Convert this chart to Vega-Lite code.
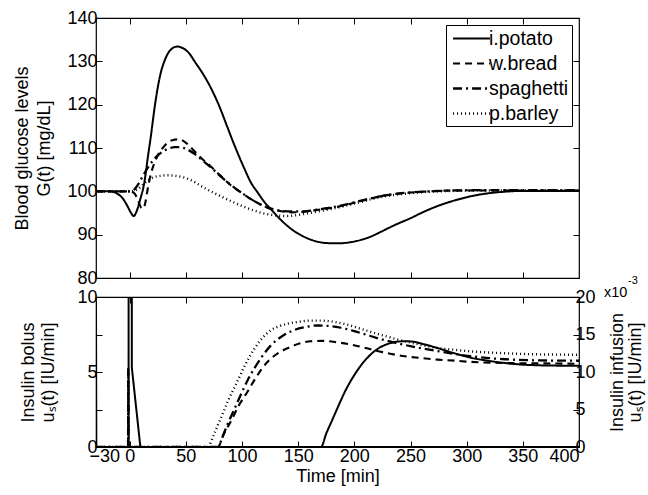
{
  "$schema": "https://vega.github.io/schema/vega-lite/v6.json",
  "background": "white",
  "padding": {"left": 13, "top": 8, "right": 2, "bottom": 2},
  "spacing": 19,
  "bounds": "flush",
  "config": {
    "font": "Liberation Sans",
    "view": {"stroke": "black", "strokeWidth": 1.2},
    "axis": {"domain": false, "grid": false, "tickSize": -6, "tickColor": "black", "tickWidth": 1, "labelFontSize": 18, "labelColor": "black", "titleFontSize": 18, "titleColor": "black", "titleFontWeight": "normal", "labelPadding": 5, "titleLineHeight": 22, "labelOverlap": false},
    "legend": {"fillColor": "white", "strokeColor": "black", "padding": 3, "symbolType": "M-2,0H2", "symbolSize": 340, "symbolOffset": 12, "symbolStrokeColor": "black", "symbolStrokeWidth": 2, "labelFontSize": 19.5, "labelColor": "black", "rowPadding": 5, "labelOffset": 7}
  },
  "resolve": {"scale": {"strokeDash": "independent", "strokeWidth": "independent"}, "legend": {"strokeDash": "independent"}},
  "datasets": {
    "glucose": [
      {"food":"i.potato","t":-30,"g":100},{"food":"i.potato","t":-18,"g":100},{"food":"i.potato","t":-12,"g":99.6},{"food":"i.potato","t":-6,"g":98.3},{"food":"i.potato","t":-2,"g":96.6},{"food":"i.potato","t":1,"g":95.1},{"food":"i.potato","t":3.6,"g":94.3},{"food":"i.potato","t":6,"g":95.3},{"food":"i.potato","t":9,"g":97.8},{"food":"i.potato","t":13,"g":102},{"food":"i.potato","t":16.5,"g":108.5},{"food":"i.potato","t":19,"g":113},{"food":"i.potato","t":22,"g":119},{"food":"i.potato","t":25,"g":124},{"food":"i.potato","t":28,"g":127.7},{"food":"i.potato","t":31,"g":130.1},{"food":"i.potato","t":34,"g":131.8},{"food":"i.potato","t":37,"g":132.8},{"food":"i.potato","t":40,"g":133.3},{"food":"i.potato","t":43,"g":133.4},{"food":"i.potato","t":46,"g":133.2},{"food":"i.potato","t":50,"g":132.6},{"food":"i.potato","t":54,"g":131.5},{"food":"i.potato","t":57.5,"g":130.1},{"food":"i.potato","t":65,"g":127.2},{"food":"i.potato","t":72,"g":124},{"food":"i.potato","t":80,"g":119.5},{"food":"i.potato","t":87,"g":114.8},{"food":"i.potato","t":93,"g":110.8},{"food":"i.potato","t":102,"g":105.3},{"food":"i.potato","t":108,"g":102},{"food":"i.potato","t":114,"g":99.7},{"food":"i.potato","t":120,"g":97.5},{"food":"i.potato","t":126,"g":95.8},{"food":"i.potato","t":135,"g":93.3},{"food":"i.potato","t":146,"g":90.9},{"food":"i.potato","t":157,"g":89.3},{"food":"i.potato","t":167,"g":88.4},{"food":"i.potato","t":176,"g":88.05},{"food":"i.potato","t":185,"g":88},{"food":"i.potato","t":195,"g":88.2},{"food":"i.potato","t":206,"g":88.8},{"food":"i.potato","t":215,"g":89.6},{"food":"i.potato","t":224,"g":90.7},{"food":"i.potato","t":235,"g":92.1},{"food":"i.potato","t":250,"g":93.8},{"food":"i.potato","t":262,"g":95.3},{"food":"i.potato","t":274,"g":96.6},{"food":"i.potato","t":288,"g":97.8},{"food":"i.potato","t":301,"g":98.7},{"food":"i.potato","t":315,"g":99.4},{"food":"i.potato","t":333,"g":99.9},{"food":"i.potato","t":350,"g":100.1},{"food":"i.potato","t":375,"g":100.1},{"food":"i.potato","t":400,"g":100.1},
      {"food":"w.bread","t":-30,"g":100},{"food":"w.bread","t":0,"g":100},{"food":"w.bread","t":4,"g":99.6},{"food":"w.bread","t":7,"g":98.2},{"food":"w.bread","t":10,"g":96.3},{"food":"w.bread","t":12,"g":96},{"food":"w.bread","t":14,"g":97.5},{"food":"w.bread","t":16,"g":100.5},{"food":"w.bread","t":19,"g":104.2},{"food":"w.bread","t":22,"g":106.5},{"food":"w.bread","t":25,"g":108.3},{"food":"w.bread","t":30,"g":110.2},{"food":"w.bread","t":34,"g":111.3},{"food":"w.bread","t":38,"g":111.8},{"food":"w.bread","t":43,"g":112},{"food":"w.bread","t":48,"g":111.6},{"food":"w.bread","t":53,"g":110.5},{"food":"w.bread","t":57.5,"g":109.3},{"food":"w.bread","t":64,"g":107.6},{"food":"w.bread","t":72,"g":105.8},{"food":"w.bread","t":80,"g":103.8},{"food":"w.bread","t":90,"g":101.4},{"food":"w.bread","t":100,"g":99.6},{"food":"w.bread","t":108,"g":98.2},{"food":"w.bread","t":117,"g":96.9},{"food":"w.bread","t":126,"g":95.9},{"food":"w.bread","t":135,"g":95.4},{"food":"w.bread","t":144,"g":95.15},{"food":"w.bread","t":152,"g":95.2},{"food":"w.bread","t":161,"g":95.5},{"food":"w.bread","t":175,"g":96},{"food":"w.bread","t":188,"g":96.6},{"food":"w.bread","t":205,"g":97.7},{"food":"w.bread","t":224,"g":98.9},{"food":"w.bread","t":240,"g":99.5},{"food":"w.bread","t":260,"g":99.9},{"food":"w.bread","t":289,"g":100.2},{"food":"w.bread","t":320,"g":100.2},{"food":"w.bread","t":360,"g":100.2},{"food":"w.bread","t":400,"g":100.2},
      {"food":"spaghetti","t":-30,"g":100},{"food":"spaghetti","t":0,"g":100},{"food":"spaghetti","t":4,"g":100.4},{"food":"spaghetti","t":8,"g":101.8},{"food":"spaghetti","t":12,"g":103.7},{"food":"spaghetti","t":17,"g":105.8},{"food":"spaghetti","t":21,"g":107.2},{"food":"spaghetti","t":25,"g":108.3},{"food":"spaghetti","t":30,"g":109.3},{"food":"spaghetti","t":35,"g":109.9},{"food":"spaghetti","t":40,"g":110.2},{"food":"spaghetti","t":45,"g":110.2},{"food":"spaghetti","t":50,"g":109.8},{"food":"spaghetti","t":57,"g":108.8},{"food":"spaghetti","t":64,"g":107.3},{"food":"spaghetti","t":72,"g":105.6},{"food":"spaghetti","t":80,"g":103.7},{"food":"spaghetti","t":90,"g":101.5},{"food":"spaghetti","t":100,"g":99.6},{"food":"spaghetti","t":108,"g":98.2},{"food":"spaghetti","t":117,"g":96.9},{"food":"spaghetti","t":126,"g":96},{"food":"spaghetti","t":135,"g":95.5},{"food":"spaghetti","t":145,"g":95.35},{"food":"spaghetti","t":155,"g":95.4},{"food":"spaghetti","t":165,"g":95.7},{"food":"spaghetti","t":175,"g":96.1},{"food":"spaghetti","t":188,"g":96.7},{"food":"spaghetti","t":205,"g":97.8},{"food":"spaghetti","t":224,"g":98.9},{"food":"spaghetti","t":240,"g":99.5},{"food":"spaghetti","t":260,"g":99.9},{"food":"spaghetti","t":289,"g":100.2},{"food":"spaghetti","t":320,"g":100.3},{"food":"spaghetti","t":360,"g":100.3},{"food":"spaghetti","t":400,"g":100.3},
      {"food":"p.barley","t":-30,"g":100},{"food":"p.barley","t":0,"g":100},{"food":"p.barley","t":4,"g":100.2},{"food":"p.barley","t":7,"g":100.5},{"food":"p.barley","t":12,"g":101.6},{"food":"p.barley","t":16,"g":102.5},{"food":"p.barley","t":22,"g":103.3},{"food":"p.barley","t":28,"g":103.6},{"food":"p.barley","t":34,"g":103.7},{"food":"p.barley","t":40,"g":103.6},{"food":"p.barley","t":48,"g":103.2},{"food":"p.barley","t":56,"g":102.4},{"food":"p.barley","t":63,"g":101.3},{"food":"p.barley","t":70,"g":100.3},{"food":"p.barley","t":80,"g":99},{"food":"p.barley","t":93,"g":97.4},{"food":"p.barley","t":105,"g":96.1},{"food":"p.barley","t":115,"g":95.2},{"food":"p.barley","t":123,"g":94.7},{"food":"p.barley","t":132,"g":94.4},{"food":"p.barley","t":141,"g":94.3},{"food":"p.barley","t":150,"g":94.55},{"food":"p.barley","t":160,"g":95},{"food":"p.barley","t":175,"g":95.7},{"food":"p.barley","t":188,"g":96.4},{"food":"p.barley","t":205,"g":97.5},{"food":"p.barley","t":224,"g":98.7},{"food":"p.barley","t":240,"g":99.3},{"food":"p.barley","t":260,"g":99.8},{"food":"p.barley","t":289,"g":100.1},{"food":"p.barley","t":320,"g":100.2},{"food":"p.barley","t":360,"g":100.2},{"food":"p.barley","t":400,"g":100.2}
    ],
    "infusion": [
      {"food":"p.barley","t":-30,"u":0},{"food":"p.barley","t":69.4,"u":0},{"food":"p.barley","t":75,"u":1.7},{"food":"p.barley","t":81.3,"u":3.9},{"food":"p.barley","t":88,"u":6.3},{"food":"p.barley","t":96,"u":8.8},{"food":"p.barley","t":103,"u":11},{"food":"p.barley","t":111,"u":13.1},{"food":"p.barley","t":118,"u":14.5},{"food":"p.barley","t":126,"u":15.6},{"food":"p.barley","t":133,"u":16.1},{"food":"p.barley","t":141,"u":16.45},{"food":"p.barley","t":151,"u":16.7},{"food":"p.barley","t":161,"u":16.85},{"food":"p.barley","t":170,"u":16.85},{"food":"p.barley","t":179,"u":16.75},{"food":"p.barley","t":194,"u":16.3},{"food":"p.barley","t":209,"u":15.6},{"food":"p.barley","t":225,"u":14.9},{"food":"p.barley","t":245,"u":14.1},{"food":"p.barley","t":260,"u":13.6},{"food":"p.barley","t":274,"u":13.2},{"food":"p.barley","t":290,"u":12.95},{"food":"p.barley","t":304,"u":12.75},{"food":"p.barley","t":320,"u":12.6},{"food":"p.barley","t":334,"u":12.5},{"food":"p.barley","t":365,"u":12.35},{"food":"p.barley","t":400,"u":12.3},
      {"food":"spaghetti","t":-30,"u":0},{"food":"spaghetti","t":78.3,"u":0},{"food":"spaghetti","t":83,"u":1.5},{"food":"spaghetti","t":87,"u":3},{"food":"spaghetti","t":93,"u":5},{"food":"spaghetti","t":99,"u":7},{"food":"spaghetti","t":105,"u":8.9},{"food":"spaghetti","t":111,"u":10.5},{"food":"spaghetti","t":118,"u":12.1},{"food":"spaghetti","t":126,"u":13.6},{"food":"spaghetti","t":136,"u":14.8},{"food":"spaghetti","t":146.5,"u":15.6},{"food":"spaghetti","t":157,"u":16},{"food":"spaghetti","t":167,"u":16.2},{"food":"spaghetti","t":177,"u":16.15},{"food":"spaghetti","t":188,"u":15.9},{"food":"spaghetti","t":200,"u":15.45},{"food":"spaghetti","t":212,"u":14.9},{"food":"spaghetti","t":228,"u":14.2},{"food":"spaghetti","t":245,"u":13.6},{"food":"spaghetti","t":260,"u":13.15},{"food":"spaghetti","t":274,"u":12.8},{"food":"spaghetti","t":290,"u":12.4},{"food":"spaghetti","t":304,"u":12.1},{"food":"spaghetti","t":320,"u":11.85},{"food":"spaghetti","t":334,"u":11.7},{"food":"spaghetti","t":365,"u":11.55},{"food":"spaghetti","t":400,"u":11.5},
      {"food":"w.bread","t":-30,"u":0},{"food":"w.bread","t":78.3,"u":0},{"food":"w.bread","t":84,"u":1.8},{"food":"w.bread","t":90,"u":3.4},{"food":"w.bread","t":97,"u":5.5},{"food":"w.bread","t":105,"u":7.4},{"food":"w.bread","t":113,"u":9.4},{"food":"w.bread","t":123,"u":11.4},{"food":"w.bread","t":131,"u":12.4},{"food":"w.bread","t":141,"u":13.2},{"food":"w.bread","t":151,"u":13.8},{"food":"w.bread","t":161,"u":14.1},{"food":"w.bread","t":172,"u":14.15},{"food":"w.bread","t":185,"u":13.95},{"food":"w.bread","t":197,"u":13.65},{"food":"w.bread","t":210,"u":13.2},{"food":"w.bread","t":225,"u":12.65},{"food":"w.bread","t":245,"u":12.1},{"food":"w.bread","t":260,"u":11.85},{"food":"w.bread","t":274,"u":11.65},{"food":"w.bread","t":290,"u":11.5},{"food":"w.bread","t":304,"u":11.35},{"food":"w.bread","t":334,"u":11.2},{"food":"w.bread","t":365,"u":11.15},{"food":"w.bread","t":400,"u":11.1},
      {"food":"i.potato","t":-30,"u":0},{"food":"i.potato","t":170.3,"u":0},{"food":"i.potato","t":175,"u":1.8},{"food":"i.potato","t":180,"u":3.5},{"food":"i.potato","t":185,"u":5.2},{"food":"i.potato","t":192,"u":7.5},{"food":"i.potato","t":200,"u":9.6},{"food":"i.potato","t":207,"u":11.1},{"food":"i.potato","t":215,"u":12.4},{"food":"i.potato","t":222,"u":13.2},{"food":"i.potato","t":230,"u":13.75},{"food":"i.potato","t":238,"u":14.05},{"food":"i.potato","t":245,"u":14.1},{"food":"i.potato","t":252,"u":14.05},{"food":"i.potato","t":262,"u":13.7},{"food":"i.potato","t":274,"u":13.2},{"food":"i.potato","t":289,"u":12.5},{"food":"i.potato","t":304,"u":11.9},{"food":"i.potato","t":319,"u":11.5},{"food":"i.potato","t":334,"u":11.2},{"food":"i.potato","t":348,"u":11},{"food":"i.potato","t":363,"u":10.9},{"food":"i.potato","t":380,"u":10.85},{"food":"i.potato","t":400,"u":10.85}
    ],
    "bolus": [
      {"food":"i.potato","t":-30,"b":9.7},{"food":"i.potato","t":-29.7,"b":0},{"food":"i.potato","t":-1,"b":0},{"food":"i.potato","t":0.4,"b":400},{"food":"i.potato","t":1.9,"b":5.3},{"food":"i.potato","t":9.5,"b":0},{"food":"i.potato","t":400,"b":0},
      {"food":"w.bread","t":-1.6,"b":0},{"food":"w.bread","t":-1.3,"b":5.4},{"food":"w.bread","t":-1.0,"b":0},
      {"food":"spaghetti","t":-1.4,"b":0},{"food":"spaghetti","t":-1.2,"b":5.2},{"food":"spaghetti","t":-0.9,"b":0},
      {"food":"p.barley","t":-1.5,"b":0},{"food":"p.barley","t":-1.2,"b":5.0},{"food":"p.barley","t":-0.9,"b":0}
    ],
    "exponent": [{"label": "x10", "sup": "-3"}]
  },
  "vconcat": [
    {
      "width": 483,
      "height": 260,
      "layer": [
        {
          "data": {"name": "glucose"},
          "mark": {"type": "line", "interpolate": "monotone", "color": "black"},
          "encoding": {
            "x": {"field": "t", "type": "quantitative", "scale": {"domain": [-30, 400], "nice": false, "zero": false},
                  "axis": {"orient": "bottom", "values": [0, 50, 100, 150, 200, 250, 300, 350], "labels": false, "title": null}},
            "y": {"field": "g", "type": "quantitative", "scale": {"domain": [80, 140], "nice": false, "zero": false},
                  "axis": {"orient": "left", "values": [80, 90, 100, 110, 120, 130, 140], "title": ["Blood glucose levels", "G(t) [mg/dL]"], "titlePadding": 13}},
            "strokeDash": {"field": "food", "type": "nominal",
                           "scale": {"domain": ["i.potato", "w.bread", "spaghetti", "p.barley"], "range": [[1, 0], [7, 5], [9, 4, 2, 4], [1, 3]]},
                           "legend": {"title": null, "orient": "top-right", "offset": 7}},
            "strokeWidth": {"field": "food", "type": "nominal",
                            "scale": {"domain": ["i.potato", "w.bread", "spaghetti", "p.barley"], "range": [2, 2.4, 2.4, 1.1]},
                            "legend": null}
          }
        },
        {
          "data": {"name": "glucose"},
          "mark": {"type": "line", "strokeOpacity": 0},
          "encoding": {
            "x": {"field": "t", "type": "quantitative", "axis": {"orient": "top", "values": [0, 50, 100, 150, 200, 250, 300, 350], "labels": false, "title": null}},
            "y": {"field": "g", "type": "quantitative", "axis": {"orient": "right", "values": [90, 100, 110, 120, 130], "labels": false, "title": null}},
            "detail": {"field": "food"}
          }
        }
      ],
      "resolve": {"axis": {"x": "independent", "y": "independent"}}
    },
    {
      "width": 483,
      "height": 150,
      "layer": [
        {
          "data": {"name": "bolus"},
          "mark": {"type": "line", "color": "black", "clip": true, "strokeWidth": 2},
          "encoding": {
            "x": {"field": "t", "type": "quantitative", "scale": {"domain": [-30, 400], "nice": false, "zero": false},
                  "axis": {"orient": "bottom", "values": [-30, 0, 50, 100, 150, 200, 250, 300, 350, 400], "title": "Time [min]", "labelPadding": 6, "titlePadding": 2,
                           "labelOffset": {"condition": {"test": "datum.value === -30", "value": -7}, "value": 0}}},
            "y": {"field": "b", "type": "quantitative", "scale": {"domain": [0, 10], "nice": false},
                  "axis": {"orient": "left", "values": [0, 2.5, 5, 7.5, 10], "labelExpr": "datum.value % 5 === 0 ? datum.label : ''", "title": ["Insulin bolus", "uₛ(t) [IU/min]"], "titlePadding": 19, "titleLineHeight": 20}},
            "strokeDash": {"field": "food", "type": "nominal",
                           "scale": {"domain": ["i.potato", "w.bread", "spaghetti", "p.barley"], "range": [[1, 0], [7, 5], [9, 4, 2, 4], [1, 3]]},
                           "legend": null}
          }
        },
        {
          "data": {"name": "infusion"},
          "mark": {"type": "line", "interpolate": "monotone", "color": "black", "clip": true},
          "encoding": {
            "x": {"field": "t", "type": "quantitative", "scale": {"domain": [-30, 400], "nice": false, "zero": false},
                  "axis": {"orient": "top", "values": [0, 50, 100, 150, 200, 250, 300, 350], "labels": false, "title": null}},
            "y": {"field": "u", "type": "quantitative", "scale": {"domain": [0, 20], "nice": false},
                  "axis": {"orient": "right", "values": [0, 5, 10, 15, 20], "labelPadding": 2, "title": ["Insulin infusion", "uₛ(t) [IU/min]"], "titleAngle": 270, "titleBaseline": "top", "titlePadding": -5, "titleLineHeight": 18}},
            "strokeDash": {"field": "food", "type": "nominal", "legend": null},
            "strokeWidth": {"field": "food", "type": "nominal",
                            "scale": {"domain": ["i.potato", "w.bread", "spaghetti", "p.barley"], "range": [2, 2.4, 2.4, 1.1]},
                            "legend": null}
          }
        },
        {
          "data": {"name": "exponent"},
          "mark": {"type": "text", "fontSize": 14.5, "align": "left", "baseline": "alphabetic", "dx": 25, "dy": 0, "color": "black"},
          "encoding": {
            "x": {"datum": 400, "type": "quantitative", "axis": null},
            "y": {"datum": 20, "type": "quantitative", "scale": {"domain": [0, 20], "nice": false}, "axis": null},
            "text": {"field": "label"}
          }
        },
        {
          "data": {"name": "exponent"},
          "mark": {"type": "text", "fontSize": 11, "align": "left", "baseline": "alphabetic", "dx": 49, "dy": -13, "color": "black"},
          "encoding": {
            "x": {"datum": 400, "type": "quantitative", "axis": null},
            "y": {"datum": 20, "type": "quantitative", "scale": {"domain": [0, 20], "nice": false}, "axis": null},
            "text": {"field": "sup"}
          }
        }
      ],
      "resolve": {"scale": {"y": "independent"}, "axis": {"x": "independent", "y": "independent"}}
    }
  ]
}
